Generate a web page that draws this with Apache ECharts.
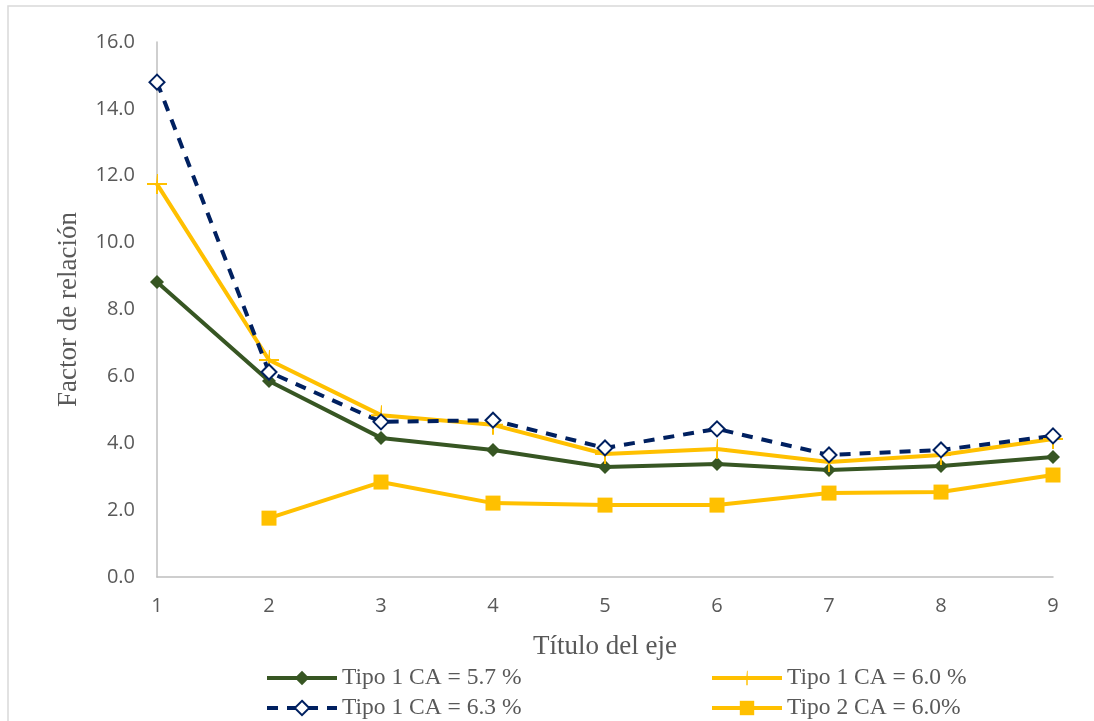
<!DOCTYPE html>
<html>
<head>
<meta charset="utf-8">
<script src="https://cdn.jsdelivr.net/npm/echarts@6/dist/echarts.min.js"></script>
<style>
  html, body { margin: 0; padding: 0; background: #fff; }
  #chart { width: 1094px; height: 721px; }
</style>
</head>
<body>
<div id="chart"></div>
<script>
// ======================
// DATA
// ======================
const categories = ['1', '2', '3', '4', '5', '6', '7', '8', '9'];
const tipo1ca57 = [8.82, 5.86, 4.16, 3.80, 3.29, 3.38, 3.20, 3.32, 3.59];
const tipo1ca60 = [11.75, 6.49, 4.84, 4.55, 3.68, 3.83, 3.44, 3.65, 4.13];
const tipo1ca63 = [14.80, 6.13, 4.64, 4.69, 3.86, 4.43, 3.65, 3.80, 4.22];
const tipo2ca60 = [null, 1.76, 2.84, 2.21, 2.15, 2.15, 2.51, 2.54, 3.05];
const yTicks = [0, 2, 4, 6, 8, 10, 12, 14, 16];

const names = ['Tipo 1 CA = 5.7 %', 'Tipo 1 CA = 6.0 %', 'Tipo 1 CA = 6.3 %', 'Tipo 2 CA = 6.0%'];

const GREEN = '#375623';
const GOLD = '#ffc000';
const NAVY = '#002060';

const chart = echarts.init(document.getElementById('chart'));

// one legend block per item so the 2x2 layout matches
const legendText = { fontFamily: 'Liberation Serif', fontSize: 23.5, color: '#595959' };
function legendAt(name, left, top) {
    return {
        data: [name], left: left, top: top,
        itemWidth: 70, itemHeight: 18, itemGap: 6,
        lineStyle: { width: 4 },
        textStyle: legendText
    };
}

const option = {
    backgroundColor: '#fff',
    animation: false,
    graphic: [{
        type: 'rect',
        shape: { x: 8, y: 6, width: 1200, height: 800 },
        style: { fill: 'none', stroke: '#d9d9d9', lineWidth: 1.5 },
        silent: true
    }],
    grid: { left: 157, right: 41, top: 42, bottom: 144 },
    legend: [
        legendAt(names[0], 260, 661),
        legendAt(names[1], 705, 661),
        legendAt(names[2], 260, 691),
        legendAt(names[3], 705, 691)
    ],
    xAxis: {
        type: 'category',
        data: categories,
        boundaryGap: false,
        name: 'Título del eje',
        nameLocation: 'middle',
        nameGap: 56,
        nameTextStyle: { fontFamily: 'Liberation Serif', fontSize: 27, color: '#595959' },
        axisLine: { lineStyle: { color: '#bfbfbf', width: 1.5 } },
        axisTick: { show: false },
        axisLabel: { margin: 19, fontFamily: 'Open Sans', fontSize: 20, color: '#595959' }
    },
    yAxis: {
        type: 'value',
        min: yTicks[0],
        max: yTicks[yTicks.length - 1],
        interval: 2,
        name: 'Factor de relación',
        nameLocation: 'middle',
        nameGap: 75,
        nameTextStyle: { fontFamily: 'Liberation Serif', fontSize: 27, color: '#595959' },
        axisLine: { show: true, lineStyle: { color: '#bfbfbf', width: 1.5 } },
        axisTick: { show: false },
        splitLine: { show: false },
        axisLabel: {
            margin: 22, fontFamily: 'Open Sans', fontSize: 20, color: '#595959',
            formatter: v => v.toFixed(1)
        }
    },
    series: [
        {
            name: names[0], type: 'line', data: tipo1ca57,
            symbol: 'diamond', symbolSize: 14,
            lineStyle: { color: GREEN, width: 4 },
            itemStyle: { color: GREEN }
        },
        {
            name: names[1], type: 'line', data: tipo1ca60,
            symbol: 'path://M0,-1H0.1V-0.1H1V0.1H0.1V1H-0.1V0.1H-1V-0.1H-0.1Z',
            symbolSize: 20,
            lineStyle: { color: GOLD, width: 4 },
            itemStyle: { color: GOLD }
        },
        {
            name: names[2], type: 'line', data: tipo1ca63,
            symbol: 'diamond', symbolSize: 15,
            lineStyle: { color: NAVY, width: 4, type: [11, 9] },
            itemStyle: { color: '#fff', borderColor: NAVY, borderWidth: 2 }
        },
        {
            name: names[3], type: 'line', data: tipo2ca60,
            symbol: 'rect', symbolSize: 15,
            lineStyle: { color: GOLD, width: 4 },
            itemStyle: { color: GOLD }
        }
    ]
};

try {
    chart.setOption(option);
} catch (error) {
    console.error('[Chart] setOption error:', error);
}
</script>
</body>
</html>
